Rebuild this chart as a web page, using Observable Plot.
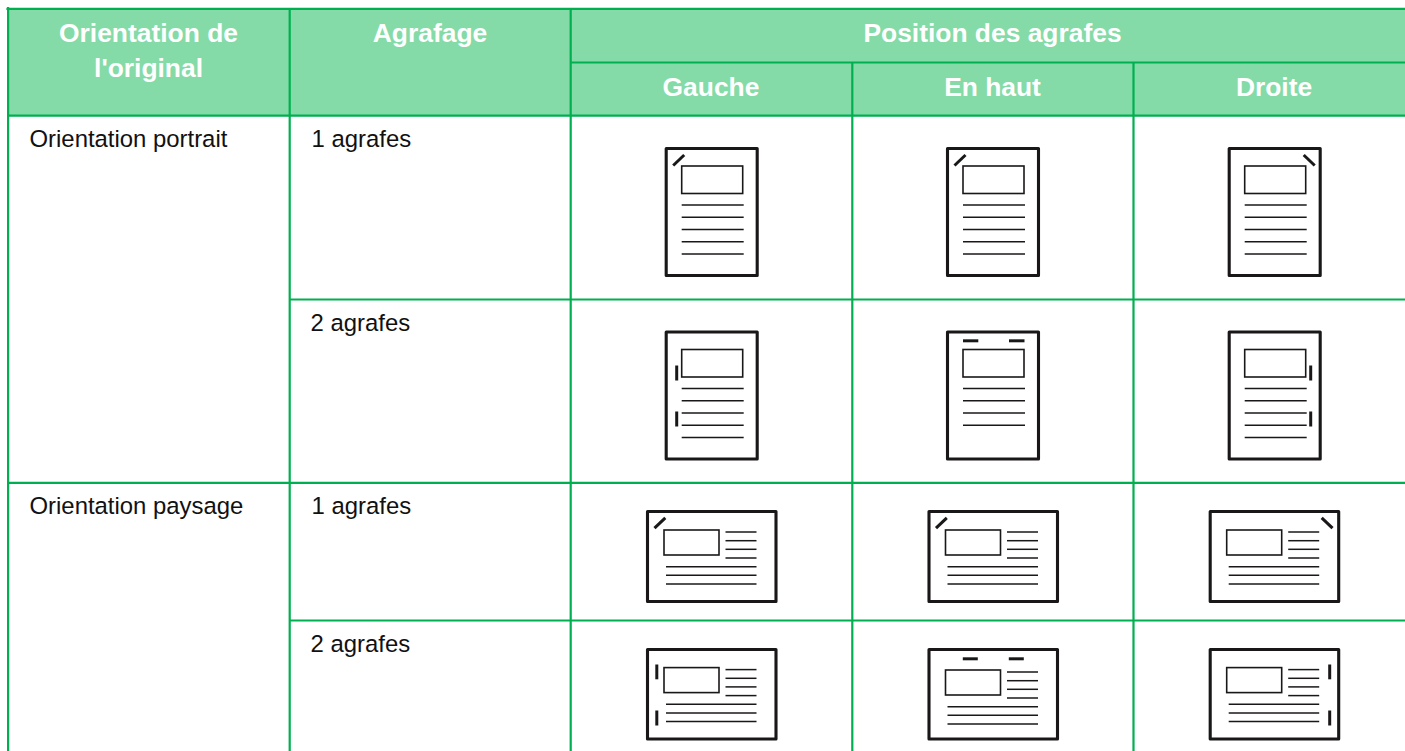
<!DOCTYPE html>
<html><head><meta charset="utf-8">
<style>html,body{margin:0;padding:0;background:#fff;overflow:hidden}svg{display:block}</style>
<script src="https://cdn.jsdelivr.net/npm/d3@7"></script>
<script src="https://cdn.jsdelivr.net/npm/@observablehq/plot@0.6"></script>
</head><body><div id="chart"></div>
<script>
// Table labels
const headerTop = [
  {label:"Orientation de", x:148, y:41.3},
  {label:"l'original", x:148, y:76.3},
  {label:"Agrafage", x:429.5, y:41.3},
  {label:"Position des agrafes", x:992, y:41.3}
];
const headerSub = [
  {label:"Gauche", x:710.5, y:95.3},
  {label:"En haut", x:992, y:95.3},
  {label:"Droite", x:1273.5, y:95.3}
];
const bodyLabels = [
  {label:"Orientation portrait", x:29, y:146.2},
  {label:"1 agrafes", x:311, y:146.2},
  {label:"2 agrafes", x:310, y:330.2},
  {label:"Orientation paysage", x:29, y:513.2},
  {label:"1 agrafes", x:311, y:513.2},
  {label:"2 agrafes", x:310, y:651.2}
];
// Table grid
const gridV = [{x:7.6,y1:7,y2:751},{x:289.2,y1:8,y2:751},{x:570.2,y1:8,y2:751},{x:851.8,y1:62,y2:751},{x:1133,y1:62,y2:751}];
const gridH = [{y:8.4,x1:6.4,x2:1405},{y:62,x1:570,x2:1405},{y:115.2,x1:7,x2:1405},{y:299,x1:289,x2:1405},{y:482.4,x1:7,x2:1405},{y:620,x1:289,x2:1405}];
// Sheet positions per column
const colPortrait = [666.2, 947.5, 1229.2];
const colLandscape = [647.5, 929, 1210.2];
const rowsPortrait = [{top:148.5,stack:"one"},{top:332,stack:"two"}];
const rowsLandscape = [{top:511.5,stack:"one"},{top:649.5,stack:"two"}];
// Sheet templates, relative to each sheet corner
const portrait = {w:91,h:127,box:[15.5,17.5,76.5,45],lines:[56,68.3,80.5,92.7,105],lx:[15.5,77.5]};
const landscape = {w:128.5,h:90,box:[16.5,18.5,71.5,43.5],shortY:[20,28.7,37.3,46],sx:[78,109],longY:[54.7,63.3,72],lx:[18.5,109]};

const sheets = [], boxes = [], ruled = [], staples = [];
function addStaple(x1,y1,x2,y2){staples.push({x1,y1,x2,y2});}
colPortrait.forEach((cx,c)=>rowsPortrait.forEach(r=>{
  const t=r.top, p=portrait;
  sheets.push({x1:cx,x2:cx+p.w,y1:t,y2:t+p.h});
  boxes.push({x1:cx+p.box[0],x2:cx+p.box[2],y1:t+p.box[1],y2:t+p.box[3]});
  const ys = (r.stack==="two"&&c===1)?p.lines.slice(0,4):p.lines;
  ys.forEach(d=>ruled.push({x1:cx+p.lx[0],x2:cx+p.lx[1],y:t+d}));
  if(r.stack==="one"){
    if(c<2) addStaple(cx+6.5,t+16.5,cx+17.5,t+6);
    else addStaple(cx+74,t+6,cx+85,t+16.5);
  } else if(c===1){
    addStaple(cx+15,t+8.3,cx+30.3,t+8.3); addStaple(cx+61,t+8.3,cx+76.5,t+8.3);
  } else {
    const sx = c===0?cx+10:cx+81;
    addStaple(sx,t+33,sx,t+48); addStaple(sx,t+79,sx,t+94);
  }
}));
colLandscape.forEach((cx,c)=>rowsLandscape.forEach(r=>{
  const t=r.top, p=landscape;
  const shift = (r.stack==="two"&&c===1)?2.4:0;
  const base = r.stack==="two"?t-0.4:t;
  sheets.push({x1:cx,x2:cx+p.w,y1:t,y2:t+p.h-(r.stack==="two"?0.5:0)});
  boxes.push({x1:cx+p.box[0],x2:cx+p.box[2],y1:base+shift+p.box[1],y2:base+shift+p.box[3]});
  p.shortY.forEach(d=>ruled.push({x1:cx+p.sx[0],x2:cx+p.sx[1],y:base+shift+d}));
  p.longY.forEach(d=>ruled.push({x1:cx+p.lx[0],x2:cx+p.lx[1],y:base+shift+d}));
  if(r.stack==="one"){
    if(c<2) addStaple(cx+6.5,t+16.2,cx+17.3,t+5.8);
    else addStaple(cx+111,t+5.8,cx+121.8,t+16.2);
  } else if(c===1){
    addStaple(cx+33.3,t+8.8,cx+48.3,t+8.8); addStaple(cx+79.3,t+8.8,cx+94.3,t+8.8);
  } else {
    const sx = c===0?cx+8.8:cx+119;
    addStaple(sx,t+14.5,sx,t+29.3); addStaple(sx,t+60.5,sx,t+75.5);
  }
}));

const GREEN="#00b050", FILL="#84dba8", INK="#1a1718";
const font='"Liberation Sans", Arial, sans-serif';
const chart = Plot.plot({
  width:1405, height:751, margin:0,
  x:{domain:[0,1405],range:[0,1405],axis:null},
  y:{domain:[0,751],range:[0,751],axis:null},
  style:{background:"#fff",fontFamily:font},
  marks:[
    Plot.rect([{x1:7,x2:1405,y1:8,y2:115}],{x1:"x1",x2:"x2",y1:"y1",y2:"y2",fill:FILL}),
    Plot.ruleX(gridV,{x:"x",y1:"y1",y2:"y2",stroke:GREEN,strokeWidth:2.2}),
    Plot.ruleY(gridH,{y:"y",x1:"x1",x2:"x2",stroke:GREEN,strokeWidth:2.2}),
    Plot.text(headerTop,{x:"x",y:"y",text:"label",fill:"#fff",fontSize:26.4,fontWeight:"bold",lineAnchor:"bottom",fontFamily:font}),
    Plot.text(headerSub,{x:"x",y:"y",text:"label",fill:"#fff",fontSize:26.4,fontWeight:"bold",lineAnchor:"bottom",fontFamily:font}),
    Plot.text(bodyLabels,{x:"x",y:"y",text:"label",fill:"#111",fontSize:23.9,textAnchor:"start",lineAnchor:"bottom",fontFamily:font}),
    Plot.rect(sheets,{x1:"x1",x2:"x2",y1:"y1",y2:"y2",fill:"#fff",stroke:INK,strokeWidth:3.1,strokeLinejoin:"round"}),
    Plot.rect(boxes,{x1:"x1",x2:"x2",y1:"y1",y2:"y2",fill:"none",stroke:INK,strokeWidth:1.6}),
    Plot.ruleY(ruled,{y:"y",x1:"x1",x2:"x2",stroke:INK,strokeWidth:1.5}),
    Plot.link(staples,{x1:"x1",y1:"y1",x2:"x2",y2:"y2",stroke:INK,strokeWidth:3})
  ]
});
document.getElementById("chart").append(chart);
</script></body></html>
